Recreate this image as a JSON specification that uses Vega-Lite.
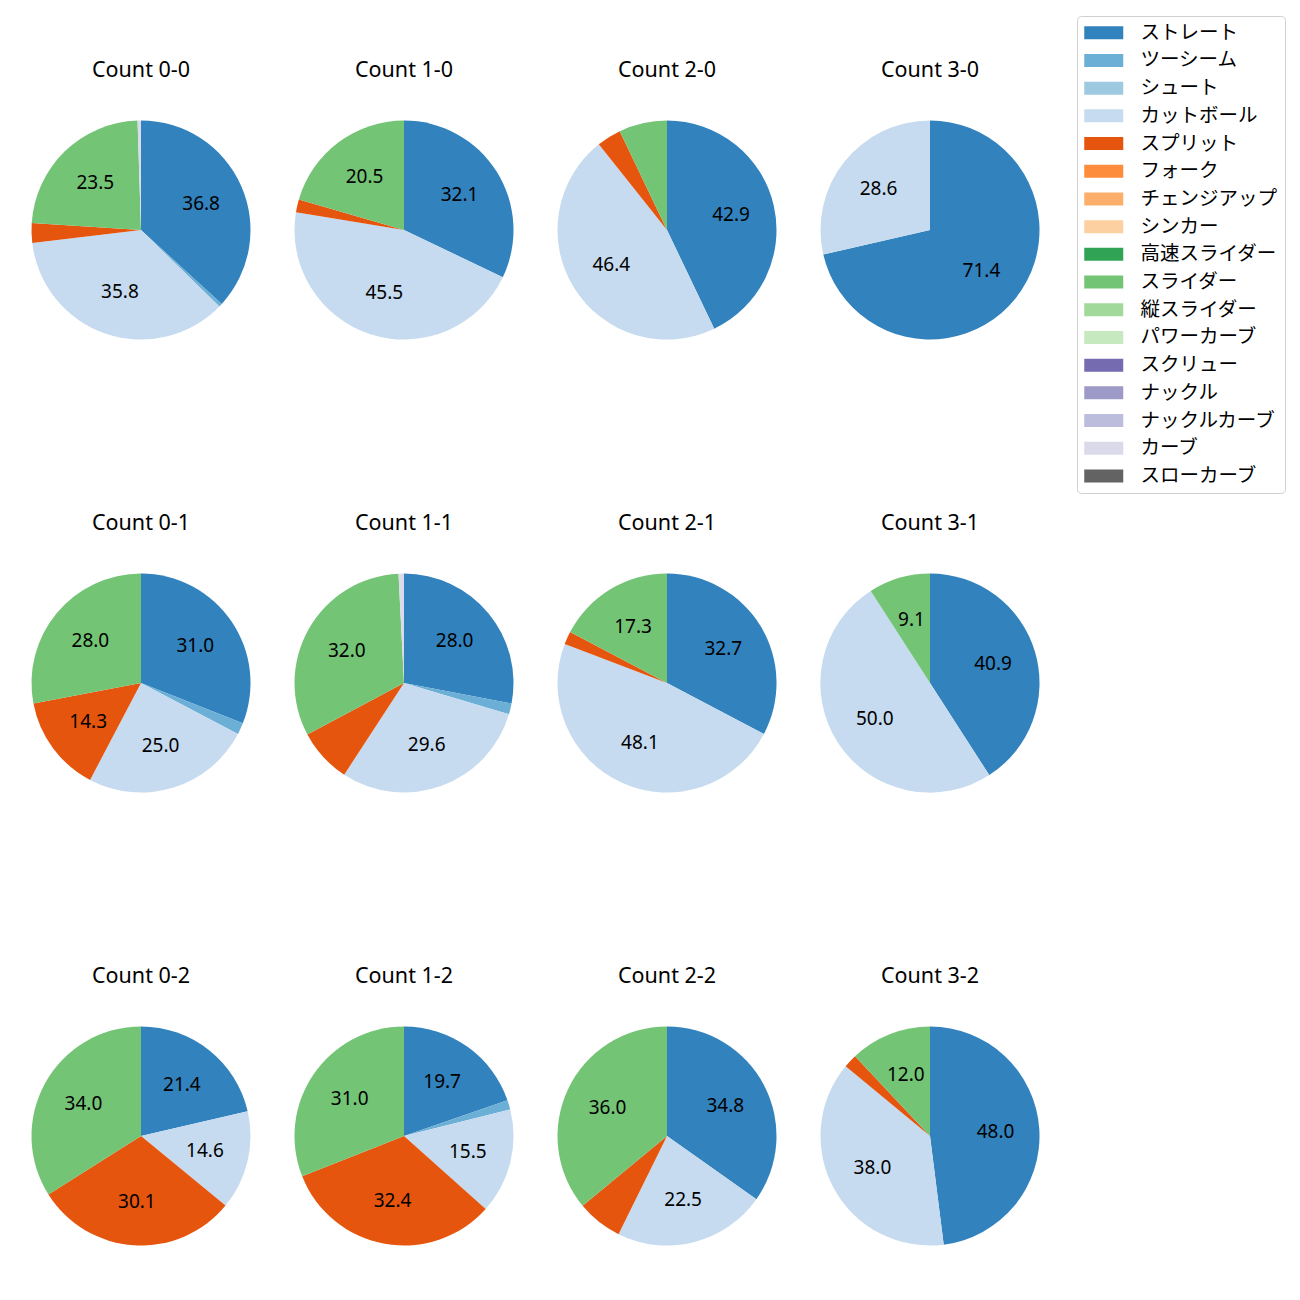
{
  "$schema": "https://vega.github.io/schema/vega-lite/v6.json",
  "padding": {"left": 9.5, "top": 15, "right": 5, "bottom": 5},
  "background": "white",
  "config": {
    "font": "Noto Sans, Noto Sans CJK JP",
    "view": {"stroke": null},
    "facet": {"spacing": {"column": 0, "row": 172}}
  },
  "data": {"values": [
    {"c": "Count 0-0", "t": "ストレート", "v": 36.8, "o": 1},
    {"c": "Count 0-0", "t": "ツーシーム", "v": 0.5, "o": 2},
    {"c": "Count 0-0", "t": "カットボール", "v": 35.8, "o": 4},
    {"c": "Count 0-0", "t": "スプリット", "v": 2.9, "o": 5},
    {"c": "Count 0-0", "t": "スライダー", "v": 23.5, "o": 10},
    {"c": "Count 0-0", "t": "カーブ", "v": 0.5, "o": 16},
    {"c": "Count 1-0", "t": "ストレート", "v": 32.1, "o": 1},
    {"c": "Count 1-0", "t": "カットボール", "v": 45.5, "o": 4},
    {"c": "Count 1-0", "t": "スプリット", "v": 1.9, "o": 5},
    {"c": "Count 1-0", "t": "スライダー", "v": 20.5, "o": 10},
    {"c": "Count 2-0", "t": "ストレート", "v": 42.9, "o": 1},
    {"c": "Count 2-0", "t": "カットボール", "v": 46.4, "o": 4},
    {"c": "Count 2-0", "t": "スプリット", "v": 3.6, "o": 5},
    {"c": "Count 2-0", "t": "スライダー", "v": 7.1, "o": 10},
    {"c": "Count 3-0", "t": "ストレート", "v": 71.4, "o": 1},
    {"c": "Count 3-0", "t": "カットボール", "v": 28.6, "o": 4},
    {"c": "Count 0-1", "t": "ストレート", "v": 31.0, "o": 1},
    {"c": "Count 0-1", "t": "ツーシーム", "v": 1.7, "o": 2},
    {"c": "Count 0-1", "t": "カットボール", "v": 25.0, "o": 4},
    {"c": "Count 0-1", "t": "スプリット", "v": 14.3, "o": 5},
    {"c": "Count 0-1", "t": "スライダー", "v": 28.0, "o": 10},
    {"c": "Count 1-1", "t": "ストレート", "v": 28.0, "o": 1},
    {"c": "Count 1-1", "t": "ツーシーム", "v": 1.6, "o": 2},
    {"c": "Count 1-1", "t": "カットボール", "v": 29.6, "o": 4},
    {"c": "Count 1-1", "t": "スプリット", "v": 8.0, "o": 5},
    {"c": "Count 1-1", "t": "スライダー", "v": 32.0, "o": 10},
    {"c": "Count 1-1", "t": "カーブ", "v": 0.8, "o": 16},
    {"c": "Count 2-1", "t": "ストレート", "v": 32.7, "o": 1},
    {"c": "Count 2-1", "t": "カットボール", "v": 48.1, "o": 4},
    {"c": "Count 2-1", "t": "スプリット", "v": 1.9, "o": 5},
    {"c": "Count 2-1", "t": "スライダー", "v": 17.3, "o": 10},
    {"c": "Count 3-1", "t": "ストレート", "v": 40.9, "o": 1},
    {"c": "Count 3-1", "t": "カットボール", "v": 50.0, "o": 4},
    {"c": "Count 3-1", "t": "スライダー", "v": 9.1, "o": 10},
    {"c": "Count 0-2", "t": "ストレート", "v": 21.4, "o": 1},
    {"c": "Count 0-2", "t": "カットボール", "v": 14.6, "o": 4},
    {"c": "Count 0-2", "t": "スプリット", "v": 30.1, "o": 5},
    {"c": "Count 0-2", "t": "スライダー", "v": 34.0, "o": 10},
    {"c": "Count 1-2", "t": "ストレート", "v": 19.7, "o": 1},
    {"c": "Count 1-2", "t": "ツーシーム", "v": 1.4, "o": 2},
    {"c": "Count 1-2", "t": "カットボール", "v": 15.5, "o": 4},
    {"c": "Count 1-2", "t": "スプリット", "v": 32.4, "o": 5},
    {"c": "Count 1-2", "t": "スライダー", "v": 31.0, "o": 10},
    {"c": "Count 2-2", "t": "ストレート", "v": 34.8, "o": 1},
    {"c": "Count 2-2", "t": "カットボール", "v": 22.5, "o": 4},
    {"c": "Count 2-2", "t": "スプリット", "v": 6.7, "o": 5},
    {"c": "Count 2-2", "t": "スライダー", "v": 36.0, "o": 10},
    {"c": "Count 3-2", "t": "ストレート", "v": 48.0, "o": 1},
    {"c": "Count 3-2", "t": "カットボール", "v": 38.0, "o": 4},
    {"c": "Count 3-2", "t": "スプリット", "v": 2.0, "o": 5},
    {"c": "Count 3-2", "t": "スライダー", "v": 12.0, "o": 10}
  ]},
  "facet": {
    "field": "c",
    "type": "nominal",
    "sort": ["Count 0-0", "Count 1-0", "Count 2-0", "Count 3-0", "Count 0-1", "Count 1-1", "Count 2-1", "Count 3-1", "Count 0-2", "Count 1-2", "Count 2-2", "Count 3-2"],
    "header": {"title": null, "labelFontSize": 21.5, "labelPadding": 39, "labelColor": "#000000", "labelFont": "Noto Sans"}
  },
  "columns": 4,
  "spec": {
    "width": 263,
    "height": 220,
    "encoding": {
      "theta": {"field": "v", "type": "quantitative", "stack": true},
      "order": {"field": "o", "type": "quantitative"}
    },
    "layer": [
      {
        "mark": {"type": "arc", "outerRadius": 109.5},
        "encoding": {
          "color": {
            "field": "t",
            "type": "nominal",
            "scale": {
              "domain": ["ストレート", "ツーシーム", "シュート", "カットボール", "スプリット", "フォーク", "チェンジアップ", "シンカー", "高速スライダー", "スライダー", "縦スライダー", "パワーカーブ", "スクリュー", "ナックル", "ナックルカーブ", "カーブ", "スローカーブ"],
              "range": ["#3182bd", "#6baed6", "#9ecae1", "#c6dbef", "#e6550d", "#fd8d3c", "#fdae6b", "#fdd0a2", "#31a354", "#74c476", "#a1d99b", "#c7e9c0", "#756bb1", "#9e9ac8", "#bcbddc", "#dadaeb", "#636363"]
            },
            "legend": {
              "title": null,
              "orient": "none",
              "legendX": 1067.5,
              "legendY": -104,
              "symbolType": "M-3,-1H3V1H-3Z",
              "symbolSize": 169,
              "symbolOffset": 10,
              "symbolStrokeWidth": 0,
              "symbolOpacity": 1,
              "labelFontSize": 19.5,
              "labelFont": "Noto Sans CJK JP",
              "labelColor": "#000000",
              "labelOffset": 27,
              "labelLimit": 300,
              "rowPadding": 6.7,
              "padding": 7,
              "strokeColor": "#d0d0d0",
              "fillColor": "#ffffff",
              "cornerRadius": 4
            }
          }
        }
      },
      {
        "mark": {"type": "text", "radius": 65.7, "fontSize": 19, "color": "#000000", "font": "Noto Sans"},
        "encoding": {
          "text": {"condition": {"test": "datum.v >= 9", "field": "v", "format": ".1f"}, "value": ""}
        }
      }
    ]
  }
}
